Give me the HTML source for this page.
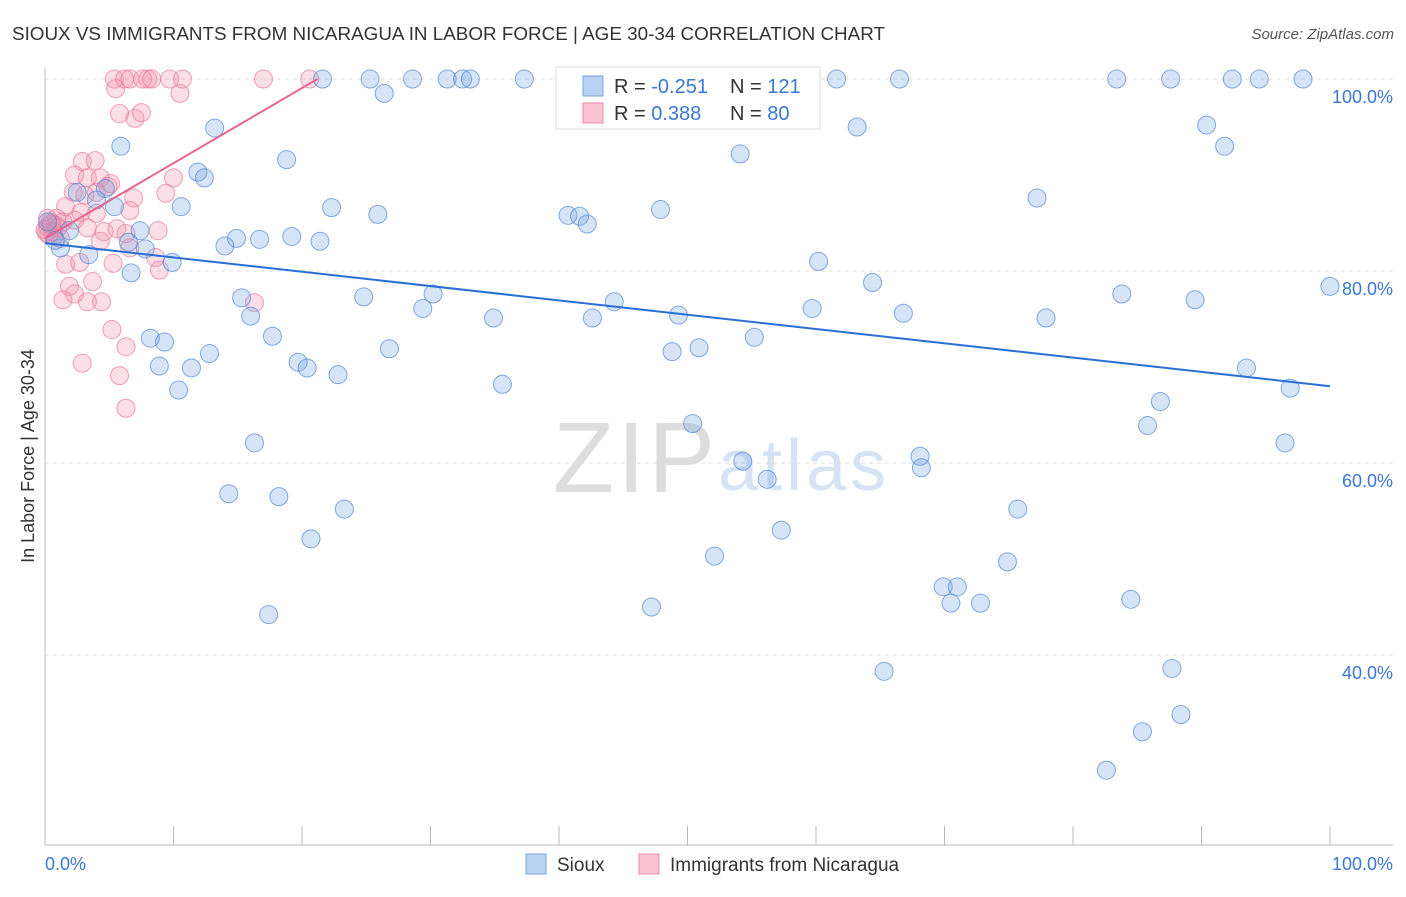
<!DOCTYPE html>
<html><head><meta charset="utf-8"><style>
body{margin:0;background:#fff;font-family:"Liberation Sans",sans-serif}
svg text{font-family:"Liberation Sans",sans-serif}
</style></head><body>
<svg id="c" width="1406" height="892">
<text x="12" y="40" font-size="18" fill="#333" textLength="873" lengthAdjust="spacingAndGlyphs">SIOUX VS IMMIGRANTS FROM NICARAGUA IN LABOR FORCE | AGE 30-34 CORRELATION CHART</text>
<text x="1394" y="39" font-size="15" fill="#555" text-anchor="end" font-style="italic">Source: ZipAtlas.com</text>
<text x="553" y="492" font-size="100" fill="#ddd" font-family="Liberation Serif,serif" textLength="162">ZIP</text>
<text x="718" y="490" font-size="72" fill="#d6e3f5" textLength="168">atlas</text>
<g id="grid"></g><g id="axes"></g><g id="pts"></g><g id="lines"></g>
<text transform="translate(34,456) rotate(-90)" font-size="18" fill="#333" text-anchor="middle">In Labor Force | Age 30-34</text>
<text x="45" y="870" font-size="18" fill="#3a78d4">0.0%</text>
<text x="1393" y="870" font-size="18" fill="#3a78d4" text-anchor="end">100.0%</text>
<g>
<rect x="556" y="67" width="264" height="62" fill="#fff" stroke="#ddd"/>
<rect x="583" y="76" width="20" height="20" fill="#b9d1f3" stroke="#7aa4e0"/>
<rect x="583" y="103" width="20" height="20" fill="#f9c3d3" stroke="#f08aa8"/>
<text x="614" y="93" font-size="20" fill="#333">R = <tspan fill="#3a78d4">-0.251</tspan></text>
<text x="730" y="93" font-size="20" fill="#333">N = <tspan fill="#3a78d4">121</tspan></text>
<text x="614" y="120" font-size="20" fill="#333">R = <tspan fill="#3a78d4"> 0.388</tspan></text>
<text x="730" y="120" font-size="20" fill="#333">N = <tspan fill="#3a78d4">80</tspan></text>
</g>
<g>
<rect x="526" y="854" width="20" height="20" fill="#b9d1f3" stroke="#7aa4e0"/>
<text x="557" y="871" font-size="19" fill="#333">Sioux</text>
<rect x="639" y="854" width="20" height="20" fill="#f9c3d3" stroke="#f08aa8"/>
<text x="670" y="871" font-size="19" fill="#333">Immigrants from Nicaragua</text>
</g>
</svg>
<script>
const yTicks=[100,80,60,40];
const yTickLabels=["100.0%","80.0%","60.0%","40.0%"];
const xTicks=[0,10,20,30,40,50,60,70,80,90,100];
const siouxX=[21.6,25.3,28.6,31.3,32.5,33.1,37.3,46.5,55.6,61.6,66.5,83.4,87.6,92.4,94.5,97.9,26.4,13.2,63.2,90.4,5.9,91.8,54.1,18.8,11.9,12.4,10.6,77.2,22.3,25.9,40.7,41.6,42.2,47.9,5.4,4.7,4.0,2.5,7.4,1.9,14.9,16.7,19.2,21.4,14.0,6.5,7.8,9.9,1.2,3.4,60.2,6.7,64.4,100,83.8,89.5,15.3,24.8,30.2,44.3,29.4,59.7,66.8,16.0,34.9,42.6,49.3,77.9,17.7,8.2,9.3,55.2,26.8,50.9,48.8,12.8,19.7,20.4,8.9,11.4,93.5,22.8,35.6,10.4,96.9,86.8,50.4,85.8,16.3,96.5,68.1,54.3,68.2,56.2,14.3,18.2,23.3,75.7,57.3,20.7,52.1,74.9,69.9,71.0,70.5,72.8,47.2,84.5,17.4,65.3,87.7,88.4,85.4,82.6,0.8,0.2];
const siouxY=[100,100,100,100,100,100,100,100,100,100,100,100,100,100,100,100,98.5,94.9,95.0,95.2,93.0,93.0,92.2,91.6,90.3,89.7,86.7,87.6,86.6,85.9,85.8,85.7,84.9,86.4,86.7,88.6,87.4,88.2,84.2,84.2,83.4,83.3,83.6,83.1,82.6,83.0,82.3,80.9,82.4,81.7,81.0,79.8,78.8,78.4,77.6,77.0,77.2,77.3,77.6,76.8,76.1,76.1,75.6,75.3,75.1,75.1,75.4,75.1,73.2,73.0,72.6,73.1,71.9,72.0,71.6,71.4,70.5,69.9,70.1,69.9,69.9,69.2,68.2,67.6,67.8,66.4,64.1,63.9,62.1,62.1,60.7,60.2,59.5,58.3,56.8,56.5,55.2,55.2,53.0,52.1,50.3,49.7,47.1,47.1,45.4,45.4,45.0,45.8,44.2,38.3,38.6,33.8,32.0,28.0,83.2,85.1];
const nicX=[5.4,6.2,6.6,7.6,8.0,8.3,9.7,10.7,17.0,20.6,5.5,10.5,7.0,5.8,7.5,2.9,3.9,2.3,3.3,4.3,5.1,2.2,3.1,4.0,9.4,10.0,6.9,4.9,1.6,2.8,4.0,6.6,0.9,1.4,2.3,3.3,4.6,5.6,8.8,6.3,4.3,1.2,6.6,8.6,1.6,2.7,8.9,5.3,1.9,3.7,2.3,4.4,1.4,3.3,16.3,5.2,6.3,2.9,5.8,6.3,0.2,0.4,0.6,0.2,0.8,0,1.0,0.3,0.5,0.7,0.1];
const nicY=[100,100,100,100,100,100,100,100,100,100,99.0,98.5,95.9,96.4,96.5,91.4,91.5,90.0,89.7,89.7,89.1,88.2,87.9,88.2,88.1,89.7,87.6,88.8,86.7,86.1,86.0,86.3,85.5,85.1,85.3,84.5,84.1,84.4,84.2,83.9,83.1,83.4,82.4,81.4,80.7,80.9,80.1,80.8,78.4,78.9,77.6,76.8,77.0,76.8,76.7,73.9,72.1,70.4,69.1,65.7,84.6,85.1,84.1,85.5,84.8,84.3,84.5,83.8,84.9,83.6,84.0];
const siouxTrend=[82.9,68.0];
const nicTrend=[83.4,100];const nicTrendEndX=21.2;
const NS="http://www.w3.org/2000/svg";
const sx=v=>45+v*12.85, sy=v=>79+(100-v)*9.6;
function mk(t,a,p){const e=document.createElementNS(NS,t);for(const k in a)e.setAttribute(k,a[k]);document.getElementById(p).appendChild(e);return e;}
yTicks.forEach((v,i)=>{
 const l=mk('line',{x1:45,x2:1393,y1:sy(v),y2:sy(v),stroke:'#ddd','stroke-dasharray':'4,4'},'grid');
 
 
 const t=mk('text',{x:1393,y:sy(v)+24,'font-size':18,fill:'#3a78d4','text-anchor':'end'},'grid');
 t.textContent=yTickLabels[i];
 
 
});
const ax=mk('line',{x1:45,x2:45,y1:68,y2:845,stroke:'#bbb'},'axes');


const bx=mk('line',{x1:45,x2:1393,y1:845,y2:845,stroke:'#bbb'},'axes');


xTicks.forEach(v=>{
 const t=mk('line',{x1:sx(v),x2:sx(v),y1:826,y2:845,stroke:'#bbb'},'axes');
 
 
});
nicX.forEach((x,i)=>{
 const c=mk('circle',{cx:sx(x),cy:sy(nicY[i]),r:9,fill:'rgba(242,140,170,0.28)',stroke:'rgba(236,120,155,0.7)','stroke-width':1},'pts');
 
 
});
siouxX.forEach((x,i)=>{
 const c=mk('circle',{cx:sx(x),cy:sy(siouxY[i]),r:9,fill:'rgba(120,165,230,0.3)',stroke:'rgba(80,135,215,0.7)','stroke-width':1},'pts');
 
 
});
const l1=mk('line',{x1:sx(0),y1:sy(siouxTrend[0]),x2:sx(100),y2:sy(siouxTrend[1]),stroke:'#2a6fd6','stroke-width':2},'lines');


const l2=mk('line',{x1:sx(0),y1:sy(nicTrend[0]),x2:sx(nicTrendEndX),y2:sy(nicTrend[1]),stroke:'#e8648e','stroke-width':2},'lines');


</script>
</body></html>
